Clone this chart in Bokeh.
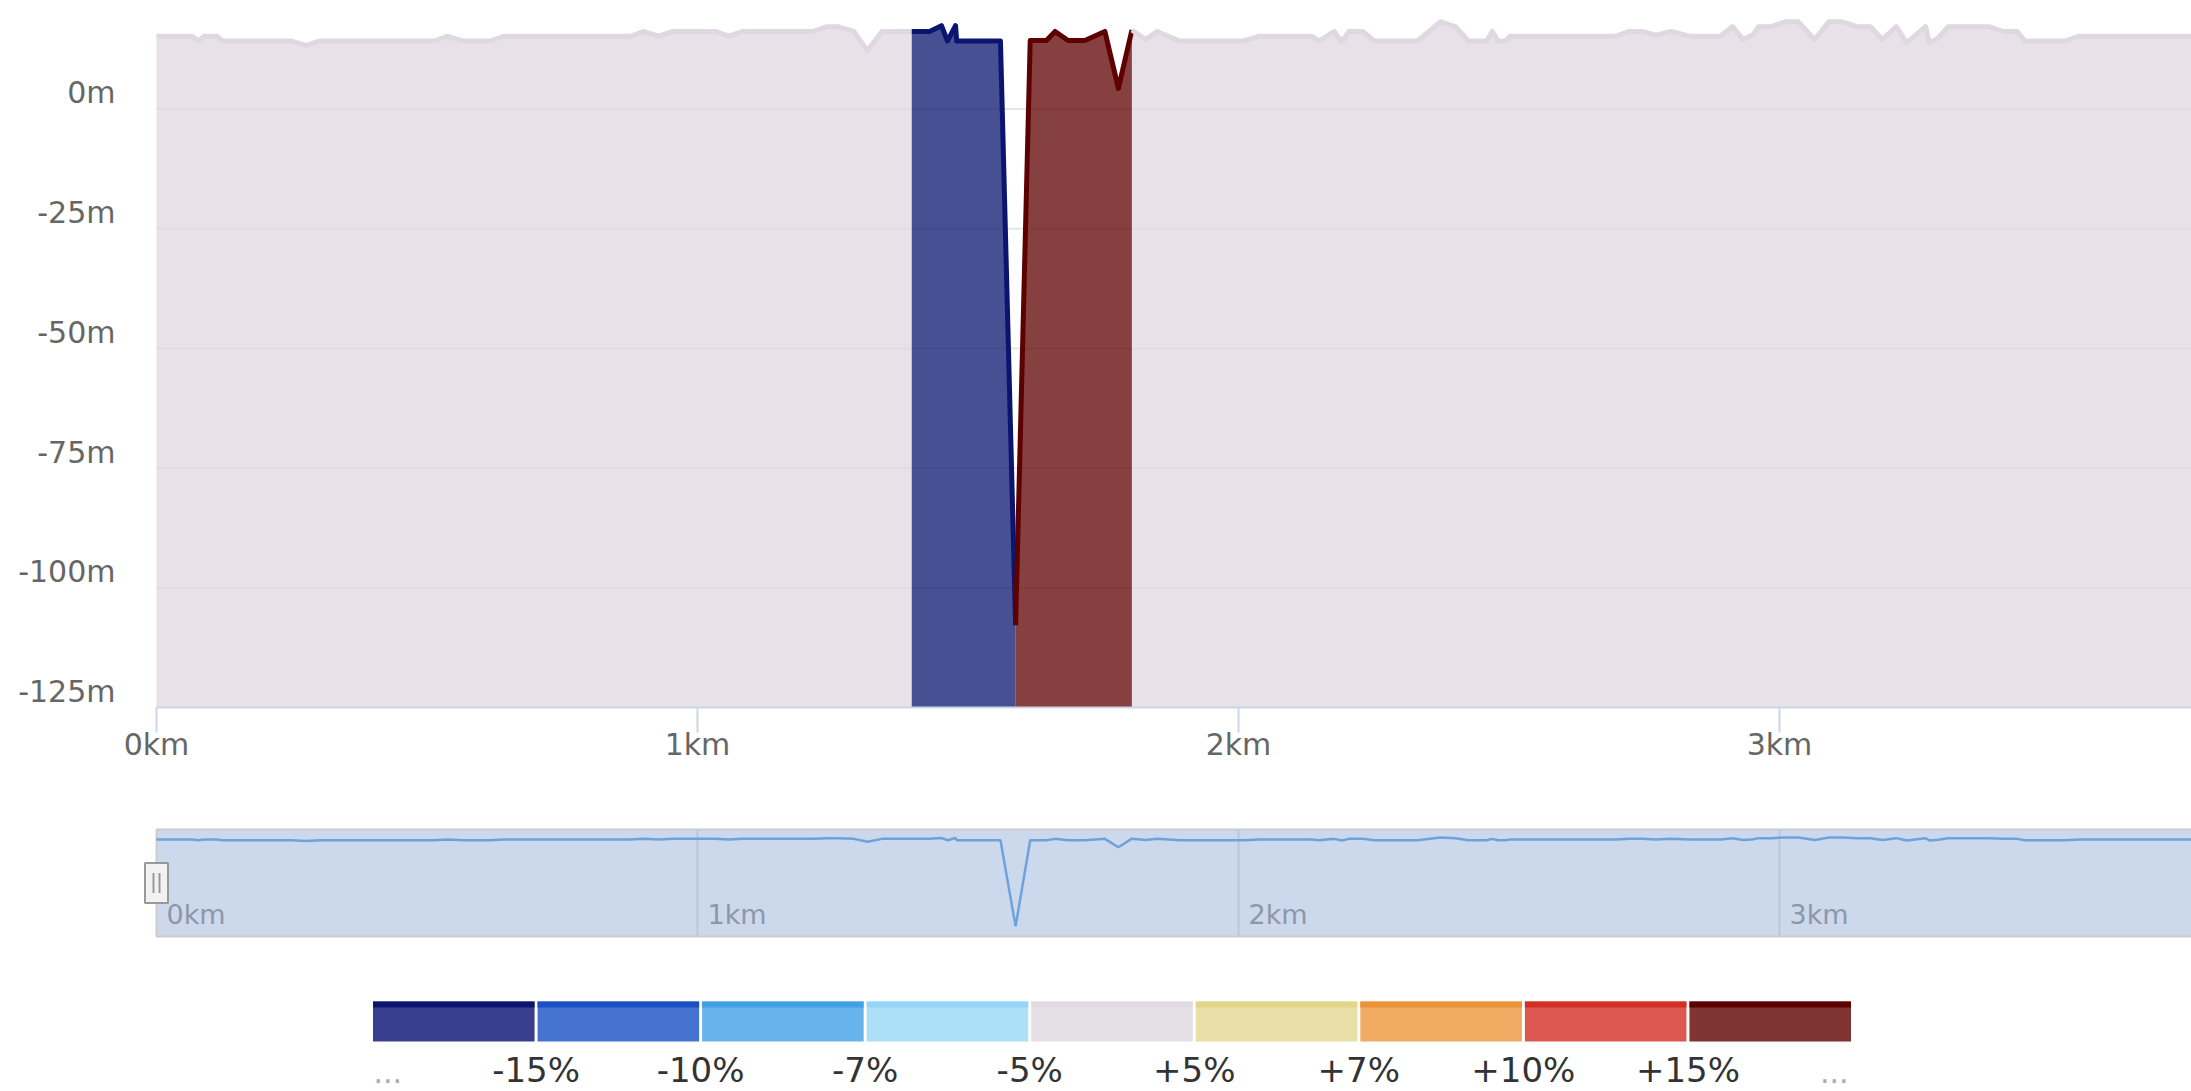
from bokeh.plotting import figure
from bokeh.models import Range1d, FixedTicker, CustomJSTickFormatter
from bokeh.layouts import column
from bokeh.embed import file_html
from bokeh.resources import INLINE
from bokeh.core.properties import value

# ---------------- data ----------------
dist_km = [
    0.000, 0.066, 0.077, 0.088, 0.112, 0.122, 0.248, 0.277, 0.302, 0.514,
    0.537, 0.566, 0.617, 0.643, 0.877, 0.900, 0.928, 0.955, 1.032, 1.058,
    1.084, 1.214, 1.240, 1.259, 1.289, 1.314, 1.341, 1.396,
    1.429, 1.451, 1.462, 1.477, 1.479, 1.560, 1.588,
    1.615, 1.645, 1.661, 1.685, 1.716, 1.753, 1.778, 1.803,
    1.828, 1.850, 1.891, 2.010, 2.039, 2.135, 2.149, 2.177, 2.191, 2.204,
    2.230, 2.251, 2.331, 2.373, 2.401, 2.425, 2.459, 2.469, 2.480, 2.493,
    2.502, 2.697, 2.723, 2.746, 2.772, 2.800, 2.834, 2.891, 2.913, 2.933,
    2.952, 2.961, 2.984, 3.010, 3.035, 3.065, 3.091, 3.116, 3.144, 3.168,
    3.190, 3.216, 3.235, 3.270, 3.277, 3.293, 3.312, 3.387, 3.413, 3.439,
    3.454, 3.528, 3.554, 3.800,
]
elev_m = [
    15.2, 15.2, 14.2, 15.2, 15.2, 14.2, 14.2, 13.3, 14.2, 14.2,
    15.2, 14.2, 14.2, 15.2, 15.2, 16.2, 15.2, 16.2, 16.2, 15.2,
    16.2, 16.2, 17.2, 17.2, 16.2, 12.2, 16.2, 16.2,
    16.2, 17.4, 14.2, 17.4, 14.2, 14.2, -107.8,
    14.3, 14.3, 16.2, 14.3, 14.3, 16.2, 4.3, 16.5,
    14.5, 16.2, 14.2, 14.2, 15.2, 15.2, 14.2, 16.2, 14.0, 16.2,
    16.2, 14.2, 14.2, 18.2, 17.2, 14.2, 14.2, 16.2, 14.2, 14.2,
    15.2, 15.2, 16.2, 16.2, 15.4, 16.2, 15.2, 15.2, 17.2, 14.5,
    15.6, 17.2, 17.2, 18.2, 18.2, 14.5, 18.2, 18.2, 17.2, 17.2,
    14.5, 17.2, 13.8, 17.2, 13.8, 14.8, 17.2, 17.2, 16.2, 16.2,
    14.2, 14.2, 15.2, 15.2,
]

zone_edges_km = [0.0, 1.396, 1.588, 1.803, 3.800]
zone_colors = ["#e0d8e0", "#0b1570", "#5d0000", "#e0d8e0"]

y_ticks = [-125, -100, -75, -50, -25, 0]
y_tick_labels = ["-125m", "-100m", "-75m", "-50m", "-25m", "0m"]
x_ticks = [0, 1, 2, 3]
x_tick_labels = ["0km", "1km", "2km", "3km"]

legend_labels = ["-15%", "-10%", "-7%", "-5%", "+5%", "+7%", "+10%", "+15%"]
legend_fill = ["#383f8f", "#4673cf", "#67b3eb", "#aedff9", "#e5dfe6",
               "#e7dfa5", "#f0aa61", "#dc5850", "#7f3332"]
legend_strip = ["#0b1570", "#1a50c4", "#42a0e6", "#96d5f7", "#e3dbe3",
                "#e3d68a", "#ec9339", "#d22f26", "#5d0000"]
legend_ends = ["...", "..."]

FONT = "DejaVu Sans"
W = 2191
FRAME_LEFT = 139          # common frame left for all stacked figures
PLOT_LEFT = 156           # where 0 km sits
PX_PER_KM = 541.0
X0 = -(PLOT_LEFT - FRAME_LEFT) / PX_PER_KM
X_END = (W - PLOT_LEFT) / PX_PER_KM

# ---------------- main chart ----------------
Y0, Y1 = -125.0, 18.9
p = figure(width=W, height=790, output_backend="svg", toolbar_location=None,
           x_range=Range1d(X0, X_END), y_range=Range1d(Y0, Y1),
           min_border_left=FRAME_LEFT, min_border_right=0, min_border_top=18,
           min_border_bottom=83)
p.outline_line_color = None
p.background_fill_color = "white"
p.xgrid.visible = False
p.ygrid.visible = False
px_per_m = 689 / (Y1 - Y0)

# horizontal grid lines from the tick list
p.segment(x0=0, x1=X_END, y0=y_ticks, y1=y_ticks, line_color="#e6e6e6",
          line_width=2)

xa = p.xaxis[0]
xa.ticker = FixedTicker(ticks=x_ticks)
xa.formatter = CustomJSTickFormatter(args=dict(labels=x_tick_labels),
                                     code="return labels[index];")
xa.bounds = (0, X_END)
xa.axis_line_color = "#ccd6eb"
xa.axis_line_width = 2
xa.major_tick_line_color = "#ccd6eb"
xa.major_tick_line_width = 2
xa.major_tick_out = 25
xa.major_tick_in = 0
xa.minor_tick_line_color = None
xa.major_label_standoff = -6
xa.major_label_text_font = FONT
xa.major_label_text_font_size = "30px"
xa.major_label_text_color = "#666666"

ya = p.yaxis[0]
label_lift = 16 / px_per_m      # labels sit a little above their grid line
ya.ticker = FixedTicker(ticks=[t + label_lift for t in y_ticks])
ya.formatter = CustomJSTickFormatter(args=dict(labels=y_tick_labels),
                                     code="return labels[index];")
ya.axis_line_color = None
ya.major_tick_line_color = None
ya.minor_tick_line_color = None
ya.major_tick_out = 0
ya.major_tick_in = 0
ya.major_label_standoff = 24
ya.major_label_text_font = FONT
ya.major_label_text_font_size = "30px"
ya.major_label_text_color = "#666666"

segments = []
for i, col in enumerate(zone_colors):
    a, b = zone_edges_km[i], zone_edges_km[i + 1]
    xs = [x for x in dist_km if a <= x <= b]
    ys = [y for x, y in zip(dist_km, elev_m) if a <= x <= b]
    segments.append((xs, ys, col))
for xs, ys, col in segments:
    p.varea(x=xs, y1=Y0, y2=ys, fill_color=col, fill_alpha=0.75)
for xs, ys, col in segments:
    p.line(xs, ys, line_color=col, line_width=5, line_join="round")

# ---------------- navigator ----------------
NY0, NY1 = -125.0, 32.3
n = figure(width=W, height=160, output_backend="svg", toolbar_location=None,
           x_range=Range1d(X0, X_END), y_range=Range1d(NY0, NY1),
           min_border_left=FRAME_LEFT, min_border_right=0, min_border_top=37,
           min_border_bottom=12, x_axis_location=None, y_axis_location=None)
n.outline_line_color = None
n.xgrid.visible = False
n.ygrid.visible = False
npx_per_m = 111 / (NY1 - NY0)
box_top = NY1 - 2 / npx_per_m
box_bot = NY0 + 2 / npx_per_m
n.quad(left=0, right=X_END + 0.2, bottom=box_bot, top=box_top,
       fill_color="#ccd8eb", line_color="#cccccc", line_width=2)
n.segment(x0=x_ticks[1:], y0=box_bot, x1=x_ticks[1:], y1=box_top,
          line_color="#b9c5da", line_width=2)
n.line(dist_km, elev_m, line_color="#6ea2df", line_width=2.5)
n.text(x=x_ticks, y=[box_bot] * len(x_ticks), text=x_tick_labels,
       x_offset=10, y_offset=-22, text_align="left", text_baseline="alphabetic",
       text_font=value(FONT), text_font_size="27px", text_color="#8d97a9")
mid = (box_top + box_bot) / 2
n.rect(x=0, y=mid, width=23, height=40, width_units="screen",
       height_units="screen", fill_color="#f2f2f2", line_color="#999999",
       line_width=2)
dx = 3 / PX_PER_KM
n.segment(x0=[-dx, dx], y0=mid - 10 / npx_per_m, x1=[-dx, dx],
          y1=mid + 10 / npx_per_m, line_color="#999999", line_width=2)

# ---------------- legend ----------------
sw_px = (1852 - 371) / 9
lx0 = -(371 - FRAME_LEFT) / sw_px
lx1 = 9 + (W - 1852) / sw_px
lg = figure(width=W, height=141, output_backend="svg", toolbar_location=None,
            x_range=Range1d(lx0, lx1), y_range=Range1d(141, 0),
            min_border_left=FRAME_LEFT, min_border_right=0, min_border_top=0,
            min_border_bottom=0, x_axis_location=None, y_axis_location=None)
lg.outline_line_color = None
lg.xgrid.visible = False
lg.ygrid.visible = False
g = 1.5 / sw_px
idx = list(range(len(legend_fill)))
lg.quad(left=[i + g for i in idx], right=[i + 1 - g for i in idx],
        top=51, bottom=91, fill_color=legend_fill, line_color=None)
lg.quad(left=[i + g for i in idx], right=[i + 1 - g for i in idx],
        top=51, bottom=57, fill_color=legend_strip, line_color=None)
lg.text(x=list(range(1, len(legend_labels) + 1)), y=119, text=legend_labels,
        text_align="center", text_baseline="alphabetic",
        text_font=value(FONT), text_font_size="34px", text_color="#333333")
lg.text(x=[0], y=121, text=legend_ends[:1], x_offset=2, text_align="left",
        text_baseline="alphabetic", text_font=value(FONT),
        text_font_size="30px", text_color="#aaaaaa")
lg.text(x=[len(legend_fill)], y=121, text=legend_ends[1:], x_offset=-4,
        text_align="right", text_baseline="alphabetic", text_font=value(FONT),
        text_font_size="30px", text_color="#aaaaaa")

layout = column(p, n, lg, spacing=0)
open("out.html", "w").write(file_html(layout, INLINE))
